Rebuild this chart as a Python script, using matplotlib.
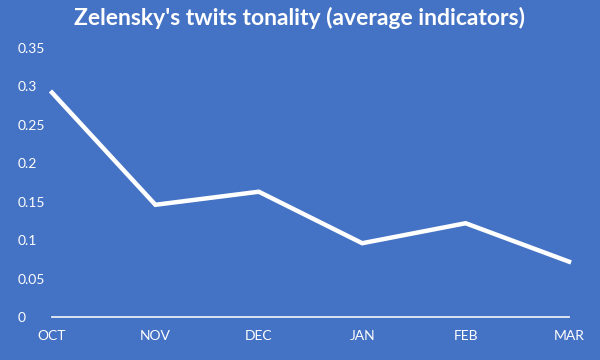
import matplotlib
matplotlib.use("Agg")
import matplotlib.pyplot as plt

months = ["OCT", "NOV", "DEC", "JAN", "FEB", "MAR"]
values = [0.292, 0.146, 0.163, 0.096, 0.122, 0.072]
yticks = [0, 0.05, 0.1, 0.15, 0.2, 0.25, 0.3, 0.35]
ytick_labels = ["0", "0.05", "0.1", "0.15", "0.2", "0.25", "0.3", "0.35"]

bg = "#4472C4"
plt.rcParams['font.family'] = ['Lato', 'DejaVu Sans']

fig = plt.figure(figsize=(6, 3.6), dpi=100, facecolor=bg)
ax = fig.add_axes([52/600, 1-317/360, (569-52)/600, (317-48)/360])
ax.set_facecolor(bg)

x = list(range(len(months)))
ax.plot(x, values, color="white", linewidth=3.2, solid_joinstyle="miter", clip_on=False)

ax.set_xlim(0, len(months) - 1)
ax.set_ylim(0, 0.35)
ax.set_xticks(x)
ax.set_xticklabels(months)
ax.set_yticks(yticks)
ax.set_yticklabels(ytick_labels)

for s in ["top", "right", "left"]:
    ax.spines[s].set_visible(False)
ax.spines["bottom"].set_color("#E8ECF5")
ax.spines["bottom"].set_linewidth(1.3)

ax.tick_params(axis="both", length=0, colors="white", labelsize=10)
ax.tick_params(axis="x", pad=9)
ax.tick_params(axis="y", pad=25)
for lab in ax.get_yticklabels():
    lab.set_horizontalalignment("left")

fig.text(0.5, 1-18/360, "Zelensky's twits tonality (average indicators)",
         ha="center", va="center", color="white", fontsize=16.5, fontweight="bold")

fig.savefig("out.png", dpi=100, facecolor=bg)
